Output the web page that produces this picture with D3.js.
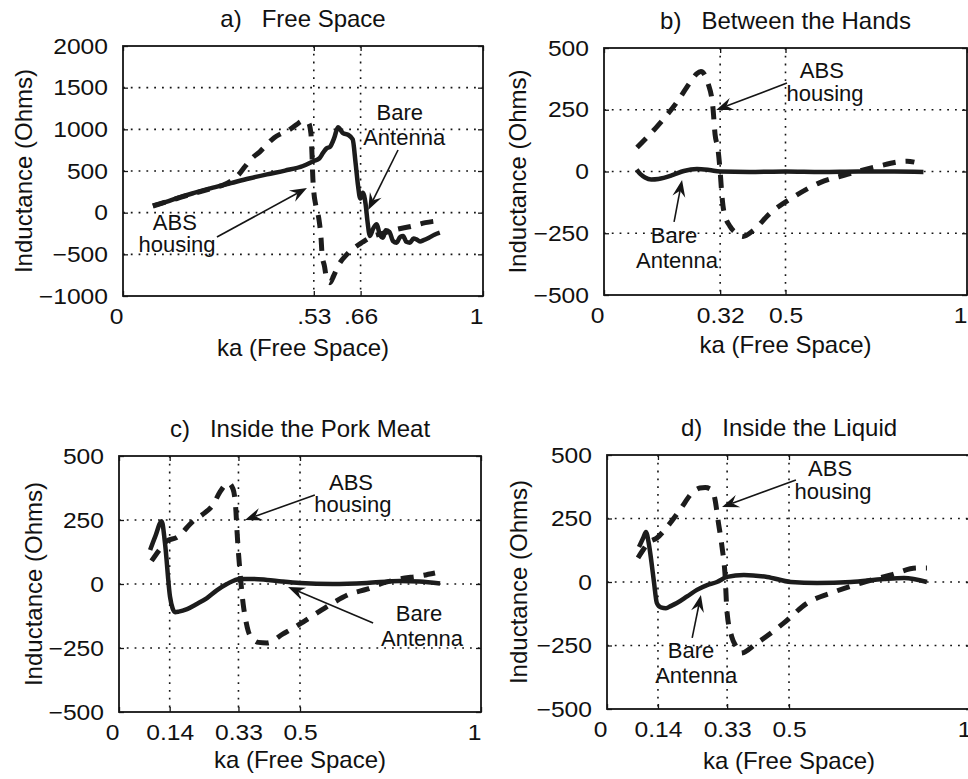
<!DOCTYPE html>
<html><head><meta charset="utf-8">
<script src="https://cdn.jsdelivr.net/npm/d3@7"></script>
<style>
body{margin:0;background:#fff}
svg{display:block}
text{font-family:"Liberation Sans",Arial,Helvetica,sans-serif;fill:#111}
</style></head><body>
<svg id="chart" width="968" height="779"></svg>
<script>
// ---------------- DATA ----------------
const xLabel = "ka (Free Space)";
const yLabel = "Inductance (Ohms)";
const titles = ["a)   Free Space", "b)   Between the Hands", "c)   Inside the Pork Meat", "d)   Inside the Liquid"];

const yTicksA = [-1000, -500, 0, 500, 1000, 1500, 2000];
const yTicksBCD = [-500, -250, 0, 250, 500];
const xTicksA = [0, 0.53, 0.66, 1];
const xTickLabelsA = ["0", ".53", ".66", "1"];
const xTicksB = [0, 0.32, 0.5, 1];
const xTickLabelsB = ["0", "0.32", "0.5", "1"];
const xTicksCD = [0, 0.14, 0.33, 0.5, 1];
const xTickLabelsCD = ["0", "0.14", "0.33", "0.5", "1"];

// a) Free Space
const bareA = [[0.083,84],[0.12,130],[0.15,175],[0.2,240],[0.25,300],[0.3,355],[0.35,410],[0.4,460],[0.45,505],[0.5,560],[0.53,620],[0.545,650],[0.556,720],[0.565,770],[0.575,790],[0.587,900],[0.597,1025],[0.611,955],[0.625,935],[0.638,880],[0.646,600],[0.653,320],[0.659,170],[0.666,240],[0.674,100],[0.679,-100],[0.686,-280],[0.695,-190],[0.705,-140],[0.713,-260],[0.722,-300],[0.73,-210],[0.74,-230],[0.75,-340],[0.76,-360],[0.77,-290],[0.778,-280],[0.787,-350],[0.797,-360],[0.807,-310],[0.815,-320],[0.825,-345],[0.835,-330],[0.85,-300],[0.865,-265],[0.88,-240]];
const absA = [[0.083,80],[0.15,170],[0.2,235],[0.25,295],[0.28,335],[0.3,380],[0.32,450],[0.34,560],[0.36,660],[0.38,730],[0.4,820],[0.42,900],[0.44,950],[0.46,990],[0.48,1050],[0.5,1100],[0.515,1080],[0.522,950],[0.525,700],[0.527,450],[0.53,250],[0.535,100],[0.545,-100],[0.55,-300],[0.553,-500],[0.56,-650],[0.565,-780],[0.575,-840],[0.585,-760],[0.6,-620],[0.62,-510],[0.64,-430],[0.665,-355],[0.69,-290],[0.72,-250],[0.76,-200],[0.8,-165],[0.84,-120],[0.87,-100]];
// b) Between the Hands
const bareB = [[0.09,8],[0.1,-10],[0.113,-24],[0.13,-32],[0.15,-30],[0.19,-14],[0.22,2],[0.256,10],[0.29,6],[0.32,0],[0.4,-2],[0.5,0],[0.6,-2],[0.7,0],[0.8,0],[0.88,-2]];
const absB = [[0.091,97],[0.146,182],[0.2,279],[0.237,360],[0.255,395],[0.267,405],[0.287,355],[0.3,260],[0.306,150],[0.314,90],[0.32,0],[0.325,-100],[0.33,-160],[0.347,-222],[0.365,-250],[0.383,-263],[0.41,-240],[0.457,-170],[0.52,-105],[0.595,-45],[0.67,-12],[0.752,20],[0.835,42],[0.855,38]];
// c) Inside the Pork Meat
const bareC = [[0.086,133],[0.1,185],[0.118,245],[0.127,160],[0.141,-50],[0.148,-95],[0.155,-110],[0.165,-108],[0.188,-98],[0.215,-78],[0.243,-55],[0.27,-25],[0.298,0],[0.334,20],[0.37,20],[0.409,16],[0.45,10],[0.5,4],[0.59,0],[0.685,4],[0.776,12],[0.83,10],[0.887,2]];
const absC = [[0.09,90],[0.11,130],[0.132,168],[0.16,182],[0.205,246],[0.232,273],[0.26,310],[0.279,360],[0.302,394],[0.315,371],[0.323,285],[0.326,207],[0.334,51],[0.343,-78],[0.35,-140],[0.357,-184],[0.37,-215],[0.385,-228],[0.409,-230],[0.453,-195],[0.5,-156],[0.547,-113],[0.591,-74],[0.638,-39],[0.685,-20],[0.73,4],[0.776,20],[0.83,31],[0.873,43]];
// d) Inside the Liquid
const bareD = [[0.088,138],[0.1,175],[0.107,197],[0.115,150],[0.122,80],[0.129,0],[0.137,-83],[0.148,-100],[0.162,-103],[0.175,-95],[0.192,-83],[0.22,-57],[0.247,-31],[0.275,-12],[0.302,0],[0.33,20],[0.376,28],[0.44,20],[0.505,0],[0.577,-4],[0.67,0],[0.761,12],[0.816,16],[0.879,0]];
const absD = [[0.085,95],[0.099,126],[0.113,154],[0.137,173],[0.165,217],[0.2,283],[0.236,354],[0.255,370],[0.27,372],[0.288,362],[0.297,323],[0.305,244],[0.316,138],[0.324,35],[0.33,-122],[0.343,-217],[0.355,-255],[0.368,-280],[0.412,-240],[0.486,-161],[0.55,-83],[0.624,-39],[0.698,-4],[0.78,28],[0.852,55],[0.879,55]];

// annotations: text lines [label, x, y] and arrows [[x1,y1],[x2,y2]] in data units
const annA = {texts:[["Bare",0.769,1112],["Antenna",0.781,812],["ABS",0.144,-208],["housing",0.15,-472]],
              arrows:[[[0.764,752],[0.681,32]],[[0.261,-292],[0.511,296]]]};
const annB = {texts:[["ABS",0.60,378],["housing",0.609,285],["Bare",0.193,-289],["Antenna",0.201,-391]],
              arrows:[[[0.504,358],[0.309,249]],[[0.193,-204],[0.215,-34]]]};
const annC = {texts:[["ABS",0.641,367],["housing",0.646,281],["Bare",0.829,-145],["Antenna",0.837,-242]],
              arrows:[[[0.541,348],[0.348,250]],[[0.702,-152],[0.467,-12]]]};
const annD = {texts:[["ABS",0.613,417],["housing",0.621,327],["Bare",0.231,-299],["Antenna",0.245,-398]],
              arrows:[[[0.519,402],[0.316,295]],[[0.234,-220],[0.258,-51]]]};

// ---------------- LAYOUT ----------------
const panels = [
  {title:titles[0], left:123, right:483, top:46, bottom:296, yDomain:[-1000,2000], yTicks:yTicksA, xTicks:xTicksA, xTickLabels:xTickLabelsA, bare:bareA, abs:absA, ann:annA, xlabOff:60, ylabOff:91},
  {title:titles[1], left:604, right:967, top:48, bottom:295, yDomain:[-500,500], yTicks:yTicksBCD, xTicks:xTicksB, xTickLabels:xTickLabelsB, bare:bareB, abs:absB, ann:annB, xlabOff:58, ylabOff:78},
  {title:titles[2], left:119, right:481, top:456, bottom:712, yDomain:[-500,500], yTicks:yTicksBCD, xTicks:xTicksCD, xTickLabels:xTickLabelsCD, bare:bareC, abs:absC, ann:annC, xlabOff:56, ylabOff:77},
  {title:titles[3], left:607, right:971, top:455, bottom:709, yDomain:[-500,500], yTicks:yTicksBCD, xTicks:xTicksCD, xTickLabels:xTickLabelsCD, bare:bareD, abs:absD, ann:annD, xlabOff:60, ylabOff:80}
];

const svg = d3.select("#chart");
const ink = "#151515";
const stretch = 1.12;
const fmtY = d => d < 0 ? "\u2212" + Math.abs(d) : String(d);

panels.forEach((p, pi) => {
  const x = d3.scaleLinear().domain([0,1]).range([p.left, p.right]);
  const y = d3.scaleLinear().domain(p.yDomain).range([p.bottom, p.top]);
  const g = svg.append("g");
  const clipId = "clip" + pi;
  g.append("clipPath").attr("id", clipId).append("rect")
    .attr("x", p.left).attr("y", p.top).attr("width", p.right - p.left).attr("height", p.bottom - p.top);

  // grid
  const yd = p.yDomain;
  g.selectAll(".hg").data(p.yTicks.filter(v => v > yd[0] && v < yd[1])).join("line")
    .attr("x1", p.left).attr("x2", p.right).attr("y1", d => y(d)).attr("y2", d => y(d))
    .attr("stroke", ink).attr("stroke-width", 1.6).attr("stroke-dasharray", "1.8,6");
  g.selectAll(".vg").data(p.xTicks.filter(v => v > 0 && v < 1)).join("line")
    .attr("y1", p.top).attr("y2", p.bottom).attr("x1", d => x(d)).attr("x2", d => x(d))
    .attr("stroke", ink).attr("stroke-width", 1.6).attr("stroke-dasharray", "1.8,6");

  // curves
  const line = d3.line().x(d => x(d[0])).y(d => y(d[1])).curve(d3.curveMonotoneX);
  const cg = g.append("g").attr("clip-path", `url(#${clipId})`);
  cg.append("path").datum(p.bare).attr("d", line).attr("fill", "none")
    .attr("stroke", "#1c1c1c").attr("stroke-width", 4.5).attr("stroke-linejoin", "round");
  cg.append("path").datum(p.abs).attr("d", line).attr("fill", "none")
    .attr("stroke", "#1c1c1c").attr("stroke-width", 5).attr("stroke-dasharray", "13,10");

  // axes
  const ax = g.append("g").attr("transform", `translate(0,${p.bottom})`)
    .call(d3.axisBottom(x).tickValues(p.xTicks).tickFormat((d,i) => p.xTickLabels[i])
      .tickSizeInner(-5).tickSizeOuter(0).tickPadding(12));
  ax.selectAll("text").attr("dx", (d) => (d === 0 || d === 1) ? -7/stretch : 0)
    .attr("transform", `scale(${stretch},1)`);
  const ay = g.append("g").attr("transform", `translate(${p.left},0)`)
    .call(d3.axisLeft(y).tickValues(p.yTicks).tickFormat(fmtY)
      .tickSizeInner(-5).tickSizeOuter(0).tickPadding(15));
  ay.selectAll("text").attr("x", -15/stretch).attr("transform", `scale(${stretch},1)`);
  g.append("g").attr("transform", `translate(0,${p.top})`)
    .call(d3.axisTop(x).tickValues(p.xTicks).tickFormat("").tickSizeInner(-5).tickSizeOuter(0));
  g.append("g").attr("transform", `translate(${p.right},0)`)
    .call(d3.axisRight(y).tickValues(p.yTicks).tickFormat("").tickSizeInner(-5).tickSizeOuter(0));
  g.selectAll(".domain").remove();
  g.selectAll(".tick line").attr("stroke", ink).attr("stroke-width", 1.3);
  g.selectAll(".tick text").attr("font-size", 22).attr("font-family", null).attr("fill", ink);

  // box
  g.append("rect").attr("x", p.left).attr("y", p.top)
    .attr("width", p.right - p.left).attr("height", p.bottom - p.top)
    .attr("fill", "none").attr("stroke", ink).attr("stroke-width", 1.8);

  // title
  g.append("text").attr("x", (p.left + p.right)/2).attr("y", p.top - 19)
    .attr("text-anchor", "middle").attr("font-size", 24).style("white-space", "pre")
    .text(p.title);
  // x label
  g.append("text").attr("x", (p.left + p.right)/2).attr("y", p.bottom + p.xlabOff)
    .attr("text-anchor", "middle").attr("font-size", 24).text(xLabel);
  // y label
  const cy = (p.top + p.bottom)/2, lx = p.left - p.ylabOff;
  g.append("text").attr("transform", `translate(${lx},${cy}) rotate(-90)`)
    .attr("text-anchor", "middle").attr("font-size", 24).text(yLabel);

  // annotations
  p.ann.texts.forEach(t => {
    g.append("text").attr("x", x(t[1])).attr("y", y(t[2]))
      .attr("text-anchor", "middle").attr("font-size", 22).text(t[0]);
  });
  p.ann.arrows.forEach(a => {
    const x1 = x(a[0][0]), y1 = y(a[0][1]), x2 = x(a[1][0]), y2 = y(a[1][1]);
    const ang = Math.atan2(y2 - y1, x2 - x1);
    const L = 17, W = 6.5, N = 11;
    const ca = Math.cos(ang), sa = Math.sin(ang);
    const bx = x2 - L*ca, by = y2 - L*sa;
    const nx = x2 - N*ca, ny = y2 - N*sa;
    g.append("line").attr("x1", x1).attr("y1", y1).attr("x2", nx).attr("y2", ny)
      .attr("stroke", ink).attr("stroke-width", 1.6);
    const pts = [[x2,y2],[bx - W*sa, by + W*ca],[nx,ny],[bx + W*sa, by - W*ca]];
    g.append("path").attr("d", "M" + pts.map(q => q.join(",")).join("L") + "Z").attr("fill", ink);
  });
});
</script>
</body></html>
